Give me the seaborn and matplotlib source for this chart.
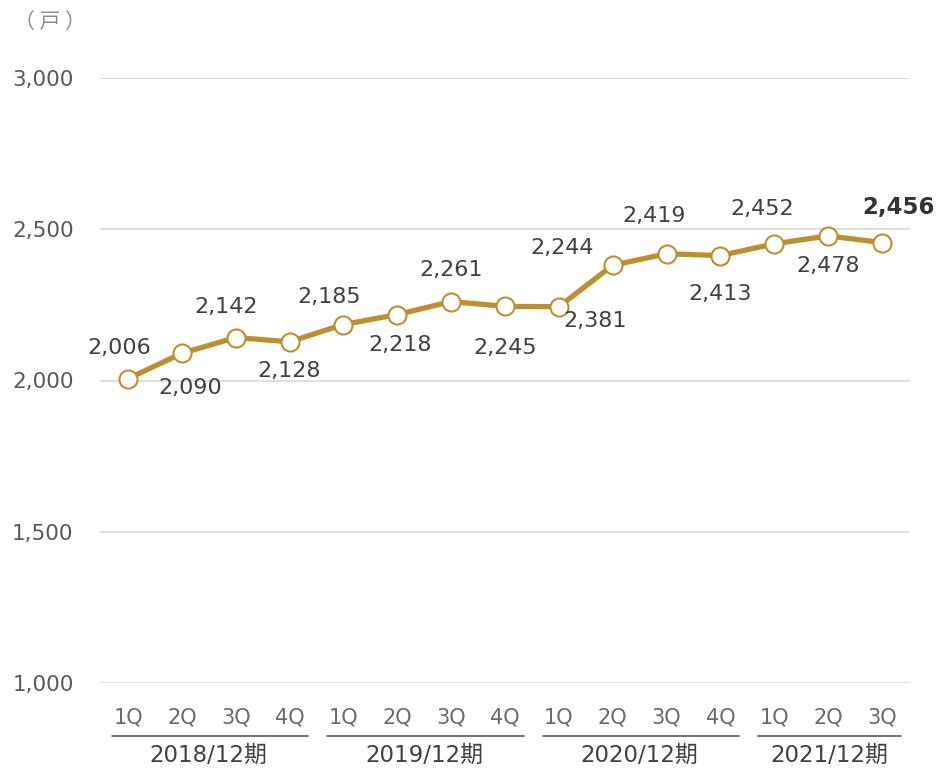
import matplotlib
matplotlib.use("Agg")
import matplotlib.pyplot as plt
import matplotlib.transforms as mtransforms
import seaborn as sns
import pandas as pd

# data
years = ["2018/12期", "2019/12期", "2020/12期", "2021/12期"]
quarters = ["1Q", "2Q", "3Q", "4Q", "1Q", "2Q", "3Q", "4Q",
            "1Q", "2Q", "3Q", "4Q", "1Q", "2Q", "3Q"]
year_of_point = [0, 0, 0, 0, 1, 1, 1, 1, 2, 2, 2, 2, 3, 3, 3]
units = [2006, 2090, 2142, 2128, 2185, 2218, 2261, 2245,
         2244, 2381, 2419, 2413, 2452, 2478, 2456]
yticks = [1000, 1500, 2000, 2500, 3000]

# label placement (offset in points)
label_offsets = [(-6, 22), (6, -25), (-7, 22), (0, -21), (-10, 20), (2, -22),
                 (0, 23), (0, -30), (2, 42), (-13, -40), (-9, 27), (0, -28),
                 (-9, 25), (0, -22), (12, 25)]

gold = "#BF8F2F"
sns.set_theme(style="white")
plt.rcParams["font.family"] = ["DejaVu Sans", "Noto Sans CJK JP"]

df = pd.DataFrame({"x": range(len(units)), "units": units})

fig = plt.figure(figsize=(9.39, 7.68), dpi=100)
ax = fig.add_axes([100 / 939, 1 - 683 / 768, 810 / 939, 605 / 768])

for y in yticks:
    ax.axhline(y, color="#d9d9d9", lw=1.2, zorder=0)

sns.lineplot(data=df, x="x", y="units", ax=ax, color=gold, lw=3.8,
             marker="o", markersize=13, markerfacecolor="white",
             markeredgecolor=gold, markeredgewidth=1.5, zorder=3)

ax.set_xlim(-0.52, 14.52)
ax.set_ylim(1000, 3000)
sns.despine(ax=ax, left=True, bottom=True)
ax.set_xlabel("")
ax.set_ylabel("")
ax.set_yticks(yticks)
ax.set_yticklabels([f"{v:,}" for v in yticks], fontsize=15.5, color="#595959")
ax.tick_params(axis="y", length=0, pad=19)
ax.set_xticks([])

for i, (v, (dx, dy)) in enumerate(zip(units, label_offsets)):
    last = i == len(units) - 1
    ax.annotate(f"{v:,}", (i, v), xytext=(dx, dy), textcoords="offset points",
                ha="center", va="center",
                fontsize=16.5 if last else 16,
                color="#333333" if last else "#404040",
                fontweight="bold" if last else "normal")

trans = mtransforms.blended_transform_factory(ax.transData, ax.transAxes)
for i, q in enumerate(quarters):
    ax.text(i, -35 / 605, q, transform=trans, ha="center", va="center",
            fontsize=15, color="#6a6a6a")

for k, yr in enumerate(years):
    idx = [i for i, g in enumerate(year_of_point) if g == k]
    x0, x1 = idx[0] - 0.3, idx[-1] + 0.35
    ax.plot([x0, x1], [-53 / 605, -53 / 605], transform=trans, color="#595959",
            lw=1.2, clip_on=False)
    ax.text((idx[0] + idx[-1]) / 2 if len(idx) == 4 else (x0 + x1) / 2,
            -72 / 605, yr, transform=trans, ha="center", va="center",
            fontsize=16.5, color="#404040")

fig.text(50 / 939, 1 - 22 / 768, "（ 戸 ）", ha="center", va="center",
         fontsize=15, color="#8c8c8c", family=["Noto Sans CJK JP", "DejaVu Sans"])

fig.savefig("out.png", dpi=100)
